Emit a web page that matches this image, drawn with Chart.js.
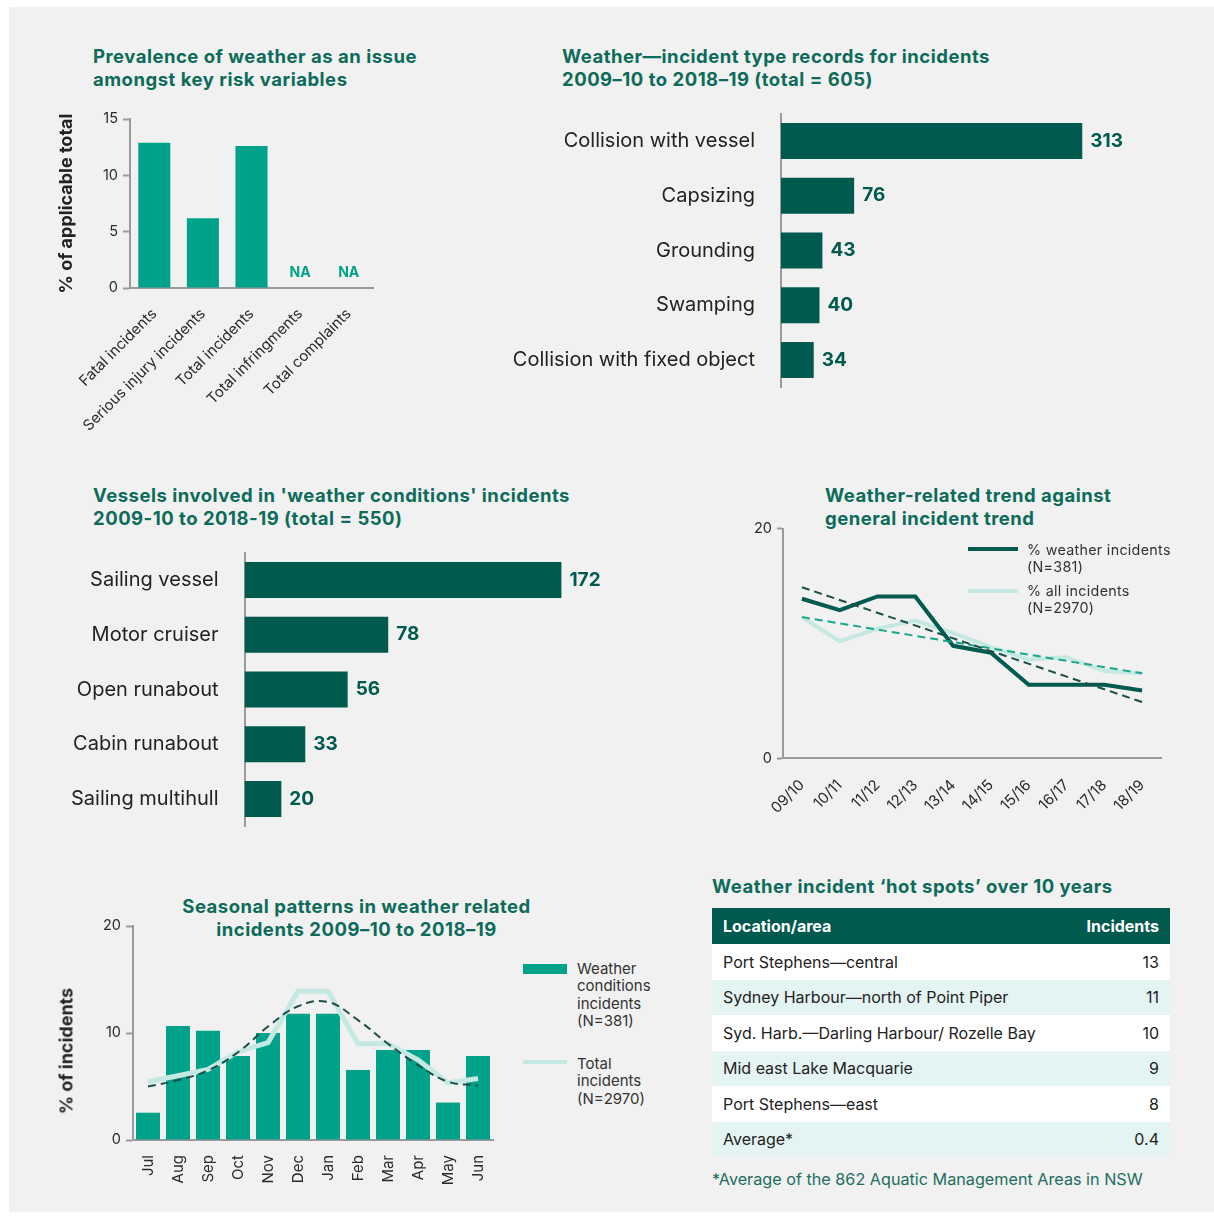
<!DOCTYPE html>
<html>
<head>
<meta charset="utf-8">
<script src="https://cdn.jsdelivr.net/npm/chart.js@4/dist/chart.umd.min.js"></script>
<style>
  body { margin: 0; background: #fff; font-family: Inter, sans-serif; color: #2b2b2b; }
  #panel { position: absolute; left: 9px; top: 7px; width: 1205px; height: 1205px; background: #f1f1f1; }
  canvas { position: absolute; }
  .title { position: absolute; font-weight: 700; font-size: 18.5px; letter-spacing: 0.5px; line-height: 23px; color: #0d6b5a; white-space: nowrap; }
  .legend { position: absolute; font-size: 15px; line-height: 17.3px; color: #333; }
  .swatch { position: absolute; }
  .ytitle { position: absolute; font-weight: 700; font-size: 18px; color: #222; white-space: nowrap; transform: translate(-50%, -50%) rotate(-90deg); }
  table { position: absolute; left: 712px; top: 908px; width: 458px; border-collapse: collapse; font-size: 16px; }
  td, th { height: 35.5px; padding: 0 11px; color: #222; font-weight: 400; }
  th { background: #005a4e; color: #fff; font-weight: 700; text-align: left; height: 36px; }
  td.n, th.n { text-align: right; }
  tr.alt td { background: #e4f4f2; }
  tr.wht td { background: #fff; }
  .foot { position: absolute; left: 712px; top: 1169px; font-size: 16.2px; color: #1c6e5f; }
</style>
</head>
<body>
<div id="panel"></div>

<div class="title" style="left:93px;top:45px">Prevalence of weather as an issue<br>amongst key risk variables</div>
<div class="title" style="left:562px;top:45px">Weather—incident type records for incidents<br>2009–10 to 2018–19 (total = 605)</div>
<div class="title" style="left:93px;top:484px">Vessels involved in 'weather conditions' incidents<br>2009-10 to 2018-19 (total = 550)</div>
<div class="title" style="left:825px;top:484px">Weather-related trend against<br>general incident trend</div>
<div class="title" style="left:160px;top:895px;width:393px;text-align:center">Seasonal patterns in weather related<br>incidents 2009–10 to 2018–19</div>
<div class="title" style="left:712px;top:875px">Weather incident ‘hot spots’ over 10 years</div>

<canvas id="risk" width="350" height="340" style="left:40px;top:100px"></canvas>
<canvas id="types" width="700" height="300" style="left:480px;top:100px"></canvas>
<canvas id="vessels" width="600" height="300" style="left:40px;top:540px"></canvas>
<canvas id="trend" width="440" height="320" style="left:740px;top:515px"></canvas>
<canvas id="season" width="480" height="300" style="left:40px;top:900px"></canvas>

<div class="ytitle" style="left:66px;top:1051px">% of incidents</div>

<div class="swatch" style="left:968px;top:547px;width:50px;height:4px;background:#005a4e"></div>
<div class="legend" style="left:1027px;top:541px;font-size:14.3px;letter-spacing:0.3px">% weather incidents<br>(N=381)</div>
<div class="swatch" style="left:968px;top:589px;width:50px;height:4px;background:#c3e9e2"></div>
<div class="legend" style="left:1027px;top:582px;font-size:14.3px;letter-spacing:0.3px">% all incidents<br>(N=2970)</div>

<div class="swatch" style="left:523px;top:964px;width:44px;height:10px;background:#00a28a"></div>
<div class="legend" style="left:577px;top:960px">Weather<br>conditions<br>incidents<br>(N=381)</div>
<div class="swatch" style="left:523px;top:1060px;width:44px;height:4px;background:#c3e9e2"></div>
<div class="legend" style="left:577px;top:1055px">Total<br>incidents<br>(N=2970)</div>

<table id="hotspots"></table>
<div class="foot">*Average of the 862 Aquatic Management Areas in NSW</div>

<script>
const FONT = 'Inter, sans-serif';
const DARK = '#005a4e';
const TEAL = '#00a28a';
const LIGHT = '#c3e9e2';
const AXIS = '#9a9a9a';

// prevalence of weather as an issue (% of applicable total), null = NA
const riskLabels = ['Fatal incidents', 'Serious injury incidents', 'Total incidents', 'Total infringments', 'Total complaints'];
const riskValues = [12.9, 6.2, 12.6, null, null];

// incident types
const typeLabels = ['Collision with vessel', 'Capsizing', 'Grounding', 'Swamping', 'Collision with fixed object'];
const typeValues = [313, 76, 43, 40, 34];

// vessels involved
const vesselLabels = ['Sailing vessel', 'Motor cruiser', 'Open runabout', 'Cabin runabout', 'Sailing multihull'];
const vesselValues = [172, 78, 56, 33, 20];

// yearly trend
const years = ['09/10', '10/11', '11/12', '12/13', '13/14', '14/15', '15/16', '16/17', '17/18', '18/19'];
const weatherPct = [13.9, 12.9, 14.1, 14.1, 9.8, 9.2, 6.4, 6.4, 6.4, 5.9];
const allPct = [12.3, 10.2, 11.3, 12.0, 10.9, 9.7, 8.6, 8.8, 7.6, 7.4];
const weatherTrend = [14.9, null, null, null, null, null, null, null, null, 4.9];
const allTrend = [12.3, null, null, null, null, null, null, null, null, 7.4];

// seasonal pattern
const months = ['Jul', 'Aug', 'Sep', 'Oct', 'Nov', 'Dec', 'Jan', 'Feb', 'Mar', 'Apr', 'May', 'Jun'];
const monthWeather = [2.55, 10.65, 10.2, 7.85, 10.0, 11.8, 11.8, 6.55, 8.4, 8.4, 3.5, 7.85];
const monthTotal = [5.45, 6.0, 6.6, 8.25, 9.1, 13.9, 13.9, 9.0, 9.0, 7.5, 5.35, 5.75];
const monthTrend = [5.0, 5.6, 6.5, 8.2, 10.6, 12.5, 12.9, 11.2, 9.0, 7.0, 5.45, 5.1];

// hot spots table
const spotHeader = ['Location/area', 'Incidents'];
const spotNames = ['Port Stephens—central', 'Sydney Harbour—north of Point Piper', 'Syd. Harb.—Darling Harbour/ Rozelle Bay', 'Mid east Lake Macquarie', 'Port Stephens—east', 'Average*'];
const spotCounts = ['13', '11', '10', '9', '8', '0.4'];

Chart.defaults.font.family = FONT;
Chart.defaults.color = '#2b2b2b';
Chart.defaults.animation = false;
Chart.defaults.responsive = false;
Chart.defaults.plugins.legend.display = false;
Chart.defaults.plugins.tooltip.enabled = false;

// table
let html = '<tr><th>' + spotHeader[0] + '</th><th class="n">' + spotHeader[1] + '</th></tr>';
for (let i = 0; i < spotNames.length; i++) {
    html += '<tr class="' + (i % 2 ? 'alt' : 'wht') + '"><td>' + spotNames[i] + '</td><td class="n">' + spotCounts[i] + '</td></tr>';
}
document.getElementById('hotspots').innerHTML = html;

const naLabels = {
    id: 'naLabels',
    afterDatasetsDraw(chart) {
        const ctx = chart.ctx;
        const xs = chart.scales.x, ys = chart.scales.y;
        ctx.save();
        ctx.font = 'bold 14px ' + FONT;
        ctx.fillStyle = TEAL;
        ctx.textAlign = 'center';
        ctx.textBaseline = 'middle';
        chart.data.datasets[0].data.forEach(function (v, i) {
            if (v === null) ctx.fillText('NA', xs.getPixelForValue(i), ys.getPixelForValue(0) - 15);
        });
        ctx.restore();
    }
};

const valueLabels = {
    id: 'valueLabels',
    afterDatasetsDraw(chart) {
        const ctx = chart.ctx;
        const meta = chart.getDatasetMeta(0);
        ctx.save();
        ctx.font = 'bold 19px ' + FONT;
        ctx.fillStyle = DARK;
        ctx.textBaseline = 'middle';
        meta.data.forEach(function (bar, i) {
            ctx.fillText(chart.data.datasets[0].data[i], bar.x + 8, bar.y);
        });
        ctx.restore();
    }
};

function fixW(w) { return function (s) { s.width = w; }; }
function fixH(h) { return function (s) { s.height = h; }; }
// category axis with fixed width and no extra label padding above/below
function fixWNoPad(w) { return function (s) { s.width = w; s.paddingTop = 0; s.paddingBottom = 0; }; }

new Chart(document.getElementById('risk'), {
    type: 'bar',
    data: {
        labels: riskLabels,
        datasets: [{ data: riskValues, backgroundColor: TEAL, barPercentage: 0.66, categoryPercentage: 1 }]
    },
    options: {
        layout: { padding: { top: 19, right: 17, left: 0, bottom: 0 } },
        scales: {
            x: {
                afterFit: fixH(152),
                grid: { display: false, drawTicks: false },
                border: { color: AXIS, width: 2 },
                ticks: { minRotation: 45, maxRotation: 45, padding: 17, font: { size: 15 } }
            },
            y: {
                min: 0, max: 15,
                afterFit: fixW(90),
                grid: { drawOnChartArea: false, color: AXIS, tickLength: 7, tickWidth: 2 },
                border: { color: AXIS, width: 2 },
                ticks: { stepSize: 5, padding: 5, font: { size: 14.5 } },
                title: { display: true, text: '% of applicable total', font: { size: 18, weight: 'bold' }, color: '#222', padding: { top: 16, bottom: 0 } }
            }
        }
    },
    plugins: [naLabels]
});

function hbar(id, labels, values, max, yWidth, pad) {
    return new Chart(document.getElementById(id), {
        type: 'bar',
        data: {
            labels: labels,
            datasets: [{ data: values, backgroundColor: DARK, barPercentage: 0.66, categoryPercentage: 1 }]
        },
        options: {
            indexAxis: 'y',
            layout: { padding: pad },
            scales: {
                x: { display: false, min: 0, max: max },
                y: {
                    afterFit: fixWNoPad(yWidth),
                    grid: { display: false, drawTicks: false },
                    border: { color: AXIS, width: 2 },
                    ticks: { padding: 26, color: '#222', font: { size: 20 } }
                }
            }
        },
        plugins: [valueLabels]
    });
}

hbar('types', typeLabels, typeValues, 400, 301, { top: 13.6, bottom: 12.6, left: 0, right: 14 });
hbar('vessels', vesselLabels, vesselValues, 200, 204.5, { top: 12.6, bottom: 13.6, left: 0, right: 27 });

new Chart(document.getElementById('trend'), {
    type: 'line',
    data: {
        labels: years,
        datasets: [
            { data: weatherTrend, borderColor: '#1d4f47', borderWidth: 2, borderDash: [8, 5], pointRadius: 0, spanGaps: true, order: 0 },
            { data: allTrend, borderColor: '#1aa58c', borderWidth: 2, borderDash: [8, 5], pointRadius: 0, spanGaps: true, order: 0 },
            { data: weatherPct, borderColor: DARK, borderWidth: 4, pointRadius: 0, order: 1 },
            { data: allPct, borderColor: LIGHT, borderWidth: 4, pointRadius: 0, order: 2 }
        ]
    },
    options: {
        layout: { padding: { top: 13.3, right: 19, left: 0, bottom: 0 } },
        scales: {
            x: {
                offset: true,
                afterFit: fixH(76.7),
                grid: { display: false, drawTicks: false },
                border: { color: AXIS, width: 2 },
                ticks: { minRotation: 45, maxRotation: 45, padding: 18, font: { size: 15 } }
            },
            y: {
                min: 0, max: 20,
                afterFit: fixW(43),
                grid: { drawOnChartArea: false, color: AXIS, tickLength: 6, tickWidth: 2 },
                border: { color: AXIS, width: 2 },
                ticks: { stepSize: 20, padding: 5, font: { size: 14.5 } }
            }
        }
    }
});

new Chart(document.getElementById('season'), {
    data: {
        labels: months,
        datasets: [
            { type: 'line', data: monthTrend, borderColor: '#1d4f47', borderWidth: 2, borderDash: [8, 5], pointRadius: 0, tension: 0.4, order: 0 },
            { type: 'line', data: monthTotal, borderColor: LIGHT, borderWidth: 5, pointRadius: 0, order: 1 },
            { type: 'bar', data: monthWeather, backgroundColor: TEAL, barPercentage: 0.8, categoryPercentage: 1, order: 2 }
        ]
    },
    options: {
        layout: { padding: { top: 26, right: 27, left: 0, bottom: 0 } },
        scales: {
            x: {
                afterFit: fixH(60),
                grid: { display: false, drawTicks: false },
                border: { color: AXIS, width: 2 },
                ticks: { minRotation: 90, maxRotation: 90, padding: 15, font: { size: 15 } }
            },
            y: {
                min: 0, max: 20,
                afterFit: fixW(93),
                grid: { drawOnChartArea: false, color: AXIS, tickLength: 7, tickWidth: 2 },
                border: { color: AXIS, width: 2 },
                ticks: { stepSize: 10, padding: 5, font: { size: 14.5 } }
            }
        }
    }
});
</script>
</body>
</html>
